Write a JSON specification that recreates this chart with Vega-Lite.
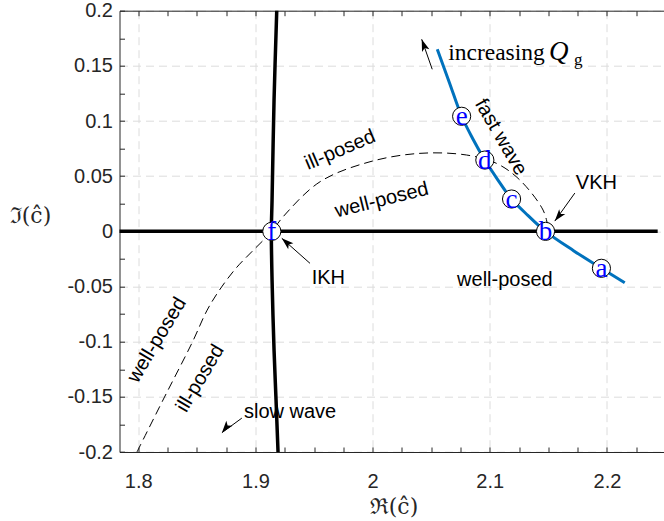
{
  "$schema": "https://vega.github.io/schema/vega-lite/v6.json",
  "width": 544.5,
  "height": 441.3,
  "autosize": {"type": "none"},
  "padding": {"left": 119.5, "top": 10.7, "right": 0, "bottom": 69},
  "background": "white",
  "config": {"view": {"stroke": null}},
  "datasets": {
    "blue": [
      {"x": 2.0552, "y": 0.165}, {"x": 2.0655, "y": 0.135}, {"x": 2.076, "y": 0.1043},
      {"x": 2.0855, "y": 0.084}, {"x": 2.0958, "y": 0.0646}, {"x": 2.107, "y": 0.0465},
      {"x": 2.1186, "y": 0.0293}, {"x": 2.1325, "y": 0.0145}, {"x": 2.1476, "y": 0.0},
      {"x": 2.1715, "y": -0.0175}, {"x": 2.1953, "y": -0.0335}, {"x": 2.2152, "y": -0.0466}
    ],
    "vline": [
      {"x": 1.9182, "y": 0.2}, {"x": 1.9159, "y": 0.119}, {"x": 1.9142, "y": 0.0283},
      {"x": 1.9136, "y": 0.0}, {"x": 1.9142, "y": -0.044}, {"x": 1.9159, "y": -0.1076},
      {"x": 1.9176, "y": -0.153}, {"x": 1.9193, "y": -0.2}
    ],
    "hline": [{"x": 1.784, "y": 0.0}, {"x": 2.2433, "y": 0.0}],
    "dashed": [
      {"x": 1.7989, "y": -0.2}, {"x": 1.8224, "y": -0.1502}, {"x": 1.8462, "y": -0.1004},
      {"x": 1.8588, "y": -0.0714}, {"x": 1.8699, "y": -0.0523}, {"x": 1.8835, "y": -0.0333},
      {"x": 1.8969, "y": -0.0185}, {"x": 1.914, "y": 0.0},
      {"x": 1.9236, "y": 0.0132}, {"x": 1.9552, "y": 0.045}, {"x": 1.9978, "y": 0.0631},
      {"x": 2.0404, "y": 0.0707}, {"x": 2.0802, "y": 0.0692}, {"x": 2.1058, "y": 0.0616},
      {"x": 2.1257, "y": 0.0465}, {"x": 2.1455, "y": 0.0193}, {"x": 2.1495, "y": 0.005}
    ],
    "markers": [
      {"x": 2.1953, "y": -0.0335, "label": "a"},
      {"x": 2.1476, "y": 0.0, "label": "b"},
      {"x": 2.1186, "y": 0.0293, "label": "c"},
      {"x": 2.0958, "y": 0.0646, "label": "d"},
      {"x": 2.076, "y": 0.1043, "label": "e"},
      {"x": 1.914, "y": 0.0, "label": "f"}
    ],
    "arrows": [
      {"name": "increasing", "x": 2.0419, "y": 0.1741, "xt": 2.0509, "yt": 0.1469},
      {"name": "VKH", "x": 2.1555, "y": 0.0093, "xt": 2.1726, "yt": 0.0347},
      {"name": "IKH", "x": 1.9225, "y": -0.0063, "xt": 1.9466, "yt": -0.029},
      {"name": "slow", "x": 1.8714, "y": -0.1825, "xt": 1.8884, "yt": -0.1693}
    ],
    "notes": [
      {"x": 2.191, "y": 0.0441, "text": "VKH", "group": "flat"},
      {"x": 2.1129, "y": -0.0442, "text": "well-posed", "group": "flat"},
      {"x": 1.9622, "y": -0.0426, "text": "IKH", "group": "flat"},
      {"x": 1.9296, "y": -0.1636, "text": "slow wave", "group": "flat"},
      {"x": 2.1095, "y": 0.0855, "text": "fast wave", "group": "fast"},
      {"x": 1.9722, "y": 0.0737, "text": "ill-posed", "group": "ill"},
      {"x": 2.0078, "y": 0.0284, "text": "well-posed", "group": "well"},
      {"x": 1.8159, "y": -0.0985, "text": "well-posed", "group": "left"},
      {"x": 1.8529, "y": -0.1333, "text": "ill-posed", "group": "left"}
    ],
    "serif": [
      {"x": 2.0645, "y": 0.1553, "text": "increasing", "part": "word"},
      {"x": 2.1505, "y": 0.1553, "text": "Q", "part": "sym"},
      {"x": 2.1718, "y": 0.1508, "text": "g", "part": "sub"}
    ]
  },
  "layer": [
    {
      "encoding": {
        "x": {
          "field": "x", "type": "quantitative",
          "scale": {"domain": [1.784, 2.2487], "nice": false, "zero": false},
          "axis": {
            "values": [1.8, 1.825, 1.85, 1.875, 1.9, 1.925, 1.95, 1.975, 2, 2.025, 2.05, 2.075, 2.1, 2.125, 2.15, 2.175, 2.2, 2.225],
            "labelExpr": "abs(datum.value*10-round(datum.value*10))<0.001 ? format(datum.value,'~g') : ''",
            "grid": true,
            "gridOpacity": {"condition": {"test": "abs(datum.value*10-round(datum.value*10))>0.001", "value": 0}, "value": 1},
            "gridColor": "#dcdcdc", "gridDash": [8, 5], "gridWidth": 1,
            "tickSize": -5, "tickColor": "#262626", "tickWidth": 1,
            "domainColor": "#262626", "domainWidth": 1,
            "labelFont": "Liberation Sans", "labelFontSize": 20, "labelColor": "#262626",
            "labelPadding": 24, "labelOverlap": false, "labelFlush": false,
            "title": "ℜ(ĉ)", "titleFont": "DejaVu Serif", "titleFontSize": 22, "titleFontWeight": "normal",
            "titleColor": "#262626", "titleX": 274, "titleY": 54, "titleAlign": "center", "titleBaseline": "middle"
          }
        },
        "y": {
          "field": "y", "type": "quantitative",
          "scale": {"domain": [-0.2, 0.2], "nice": false, "zero": false},
          "axis": {
            "values": [-0.2, -0.175, -0.15, -0.125, -0.1, -0.075, -0.05, -0.025, 0, 0.025, 0.05, 0.075, 0.1, 0.125, 0.15, 0.175, 0.2],
            "labelExpr": "abs(datum.value*20-round(datum.value*20))<0.001 ? replace(format(datum.value,'~g'),'\u2212','-') : ''",
            "grid": true,
            "gridOpacity": {"condition": {"test": "abs(datum.value*20-round(datum.value*20))>0.001", "value": 0}, "value": 1},
            "gridColor": "#dcdcdc", "gridDash": [8, 5], "gridWidth": 1,
            "tickSize": -5, "tickColor": "#262626", "tickWidth": 1,
            "domainColor": "#262626", "domainWidth": 1,
            "labelFont": "Liberation Sans", "labelFontSize": 20, "labelColor": "#262626",
            "labelPadding": 12, "labelOverlap": false, "labelFlush": false,
            "title": "ℑ(ĉ)", "titleFont": "DejaVu Serif", "titleFontSize": 22, "titleFontWeight": "normal",
            "titleColor": "#262626", "titleAngle": 0, "titleX": -89.5, "titleY": 204.3, "titleAlign": "center", "titleBaseline": "middle"
          }
        }
      },
      "layer": [
        {"data": {"name": "dashed"}, "mark": {"type": "line", "color": "black", "strokeWidth": 1, "strokeDash": [9, 5], "interpolate": "catmull-rom", "clip": true}},
        {"data": {"name": "hline"}, "mark": {"type": "line", "color": "black", "strokeWidth": 3.5}},
        {"data": {"name": "vline"}, "mark": {"type": "line", "color": "black", "strokeWidth": 3.5, "interpolate": "catmull-rom"}, "encoding": {"order": {"field": "y", "type": "quantitative"}}},
        {"data": {"name": "blue"}, "mark": {"type": "line", "color": "#0072bd", "strokeWidth": 3, "interpolate": "catmull-rom"}},
        {"data": {"name": "markers"}, "mark": {"type": "point", "shape": "circle", "filled": true, "fill": "white", "stroke": "black", "strokeWidth": 1, "size": 330, "opacity": 1}},
        {"data": {"name": "markers"}, "mark": {"type": "text", "font": "Liberation Serif", "fontSize": 27, "color": "#0000ff", "align": "center", "baseline": "middle", "dy": 1}, "encoding": {"text": {"field": "label"}}},
        {"data": {"name": "arrows"}, "mark": {"type": "rule", "color": "black", "strokeWidth": 1}, "encoding": {"x2": {"field": "xt"}, "y2": {"field": "yt"}}},
        {"data": {"name": "arrows"}, "transform": [{"filter": "datum.name == 'increasing'"}], "mark": {"type": "point", "shape": "M0,0 L0.55,1.7 L0,1.3 L-0.55,1.7 Z", "filled": true, "color": "black", "opacity": 1, "size": 200, "angle": -19.5}},
        {"data": {"name": "arrows"}, "transform": [{"filter": "datum.name == 'VKH'"}], "mark": {"type": "point", "shape": "M0,0 L0.55,1.7 L0,1.3 L-0.55,1.7 Z", "filled": true, "color": "black", "opacity": 1, "size": 200, "angle": -141.7}},
        {"data": {"name": "arrows"}, "transform": [{"filter": "datum.name == 'IKH'"}], "mark": {"type": "point", "shape": "M0,0 L0.55,1.7 L0,1.3 L-0.55,1.7 Z", "filled": true, "color": "black", "opacity": 1, "size": 200, "angle": -48.5}},
        {"data": {"name": "arrows"}, "transform": [{"filter": "datum.name == 'slow'"}], "mark": {"type": "point", "shape": "M0,0 L0.55,1.7 L0,1.3 L-0.55,1.7 Z", "filled": true, "color": "black", "opacity": 1, "size": 200, "angle": -141.7}},
        {"data": {"name": "notes"}, "transform": [{"filter": "datum.group == 'flat'"}], "mark": {"type": "text", "font": "Liberation Sans", "fontSize": 20, "color": "black", "align": "center", "baseline": "middle"}, "encoding": {"text": {"field": "text"}}},
        {"data": {"name": "notes"}, "transform": [{"filter": "datum.group == 'fast'"}], "mark": {"type": "text", "font": "Liberation Sans", "fontSize": 20, "color": "black", "align": "center", "baseline": "middle", "angle": 60}, "encoding": {"text": {"field": "text"}}},
        {"data": {"name": "notes"}, "transform": [{"filter": "datum.group == 'ill'"}], "mark": {"type": "text", "font": "Liberation Sans", "fontSize": 20, "color": "black", "align": "center", "baseline": "middle", "angle": -23}, "encoding": {"text": {"field": "text"}}},
        {"data": {"name": "notes"}, "transform": [{"filter": "datum.group == 'well'"}], "mark": {"type": "text", "font": "Liberation Sans", "fontSize": 20, "color": "black", "align": "center", "baseline": "middle", "angle": -14}, "encoding": {"text": {"field": "text"}}},
        {"data": {"name": "notes"}, "transform": [{"filter": "datum.group == 'left'"}], "mark": {"type": "text", "font": "Liberation Sans", "fontSize": 20, "color": "black", "align": "center", "baseline": "middle", "angle": -59}, "encoding": {"text": {"field": "text"}}},
        {"data": {"name": "serif"}, "transform": [{"filter": "datum.part == 'word'"}], "mark": {"type": "text", "font": "Liberation Serif", "fontSize": 23.5, "color": "black", "align": "left", "baseline": "alphabetic"}, "encoding": {"text": {"field": "text"}}},
        {"data": {"name": "serif"}, "transform": [{"filter": "datum.part == 'sym'"}], "mark": {"type": "text", "font": "Liberation Serif", "fontSize": 27, "fontStyle": "italic", "color": "black", "align": "left", "baseline": "alphabetic"}, "encoding": {"text": {"field": "text"}}},
        {"data": {"name": "serif"}, "transform": [{"filter": "datum.part == 'sub'"}], "mark": {"type": "text", "font": "Liberation Serif", "fontSize": 17, "color": "black", "align": "left", "baseline": "alphabetic"}, "encoding": {"text": {"field": "text"}}}
      ]
    },
    {
      "data": {"values": [{"v": 2}]},
      "mark": {"type": "rule", "opacity": 0},
      "encoding": {
        "x": {
          "field": "v", "type": "quantitative",
          "scale": {"domain": [1.784, 2.2487], "nice": false, "zero": false},
          "axis": {
            "orient": "top",
            "values": [1.8, 1.825, 1.85, 1.875, 1.9, 1.925, 1.95, 1.975, 2, 2.025, 2.05, 2.075, 2.1, 2.125, 2.15, 2.175, 2.2, 2.225],
            "labels": false, "grid": false, "title": null,
            "tickSize": -5, "tickColor": "#262626", "tickWidth": 1,
            "domainColor": "#262626", "domainWidth": 1
          }
        }
      }
    }
  ],
  "resolve": {"axis": {"x": "independent"}}
}
